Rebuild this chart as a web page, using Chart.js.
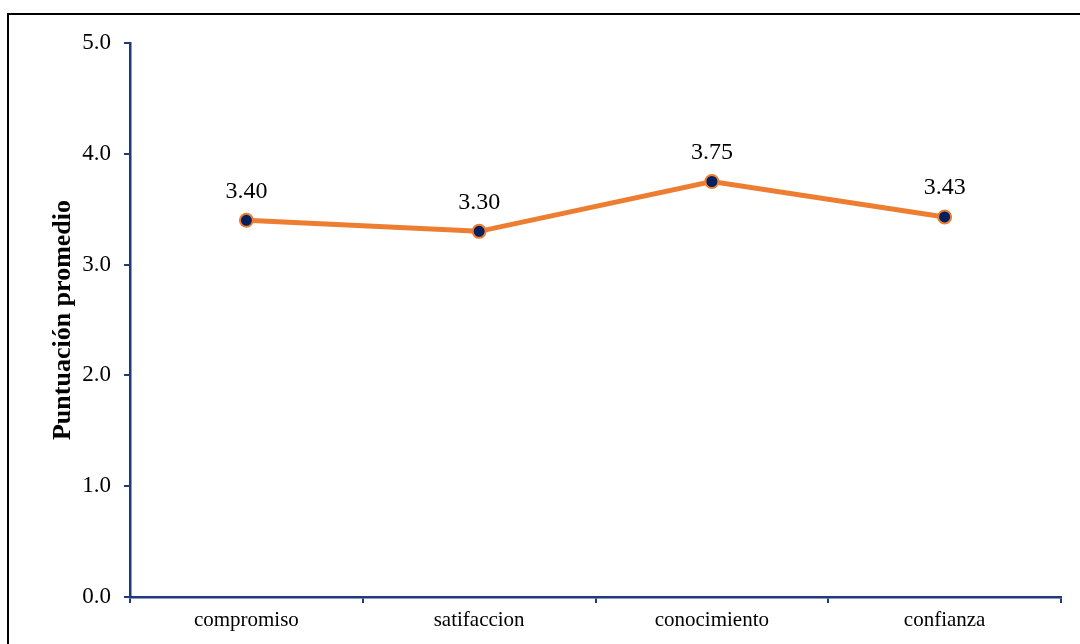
<!DOCTYPE html>
<html>
<head>
<meta charset="utf-8">
<script src="https://cdn.jsdelivr.net/npm/chart.js@4/dist/chart.umd.min.js"></script>
<style>
  html, body { margin: 0; padding: 0; background: #fff; }
  #wrap { position: relative; width: 1080px; height: 644px; overflow: hidden; }
  #frame { position: absolute; left: 7px; top: 13px; width: 1090px; height: 660px; border: 2px solid #000; box-sizing: border-box; }
  canvas { position: absolute; left: 0; top: 0; }
</style>
</head>
<body>
<div id="wrap">
  <div id="frame"></div>
  <canvas id="chart" width="1080" height="644"></canvas>
</div>
<script>
const categorias = ['compromiso', 'satifaccion', 'conocimiento', 'confianza'];
const puntuaciones = [3.40, 3.30, 3.75, 3.43];

const axisColor = '#1F3A7A';
const serif = "'Liberation Serif', 'Times New Roman', serif";

// etiquetas de valor encima de cada punto
const valueLabels = {
  id: 'valueLabels',
  afterDatasetsDraw(chart) {
    const ctx = chart.ctx;
    const meta = chart.getDatasetMeta(0);
    ctx.save();
    ctx.font = '24px ' + serif;
    ctx.fillStyle = '#000';
    ctx.textAlign = 'center';
    ctx.textBaseline = 'bottom';
    meta.data.forEach((pt, i) => {
      ctx.fillText(puntuaciones[i].toFixed(2), pt.x, pt.y - 17);
    });
    ctx.restore();
  }
};

new Chart(document.getElementById('chart').getContext('2d'), {
  type: 'line',
  data: {
    labels: categorias,
    datasets: [{
      data: puntuaciones,
      borderColor: '#ED7D31',
      borderWidth: 5,
      pointBackgroundColor: '#002060',
      pointBorderColor: '#ED7D31',
      pointBorderWidth: 2,
      pointRadius: 6.5,
      tension: 0
    }]
  },
  options: {
    responsive: false,
    animation: false,
    layout: { padding: { left: 0, top: 43, right: 19, bottom: 0 } },
    plugins: {
      legend: { display: false },
      tooltip: { enabled: false }
    },
    scales: {
      x: {
        type: 'category',
        offset: true,
        grid: {
          offset: true,
          drawOnChartArea: false,
          color: axisColor,
          tickLength: 6,
          lineWidth: 2
        },
        border: { color: axisColor, width: 2.5 },
        ticks: { color: '#000', font: { family: serif, size: 21 }, padding: 5, maxRotation: 0 },
        afterFit(scale) { scale.height = 47; }
      },
      y: {
        min: 0,
        max: 5,
        grid: {
          drawOnChartArea: false,
          color: axisColor,
          tickLength: 6,
          lineWidth: 2
        },
        border: { color: axisColor, width: 2.5 },
        ticks: {
          stepSize: 1,
          color: '#000',
          font: { family: serif, size: 23 },
          padding: 13,
          callback: v => Number(v).toFixed(1)
        },
        title: {
          display: true,
          text: 'Puntuación promedio',
          color: '#000',
          font: { family: serif, size: 26, weight: 'bold' },
          padding: { top: 48, bottom: 0 }
        },
        afterFit(scale) { scale.width = 130; }
      }
    }
  },
  plugins: [valueLabels]
});
</script>
</body>
</html>
